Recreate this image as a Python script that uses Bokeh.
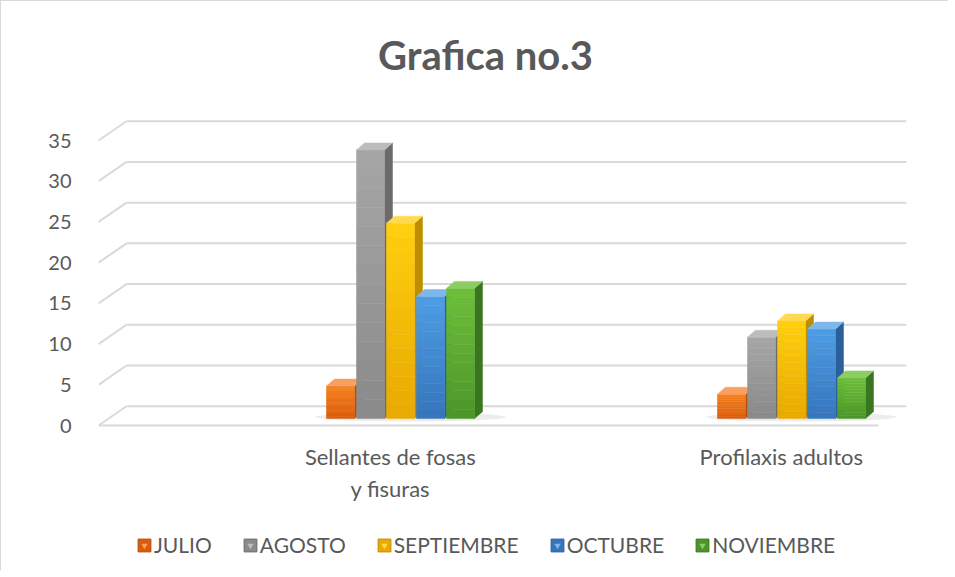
import numpy as np
from bokeh.plotting import figure
from bokeh.layouts import column
from bokeh.models import Range1d, FixedTicker, Legend, LegendItem
from bokeh.core.properties import value
from bokeh.embed import file_html
from bokeh.resources import INLINE

# ---------------- data ----------------
title_text = "Grafica no.3"
categories = ["Sellantes de fosas\ny fisuras", "Profilaxis adultos"]
series = ["JULIO", "AGOSTO", "SEPTIEMBRE", "OCTUBRE", "NOVIEMBRE"]
julio = [4, 3]
agosto = [33, 10]
septiembre = [24, 12]
octubre = [15, 11]
noviembre = [16, 5]
values = [julio, agosto, septiembre, octubre, noviembre]
y_ticks = [0, 5, 10, 15, 20, 25, 30, 35]

# ---------------- style ----------------
front_top = ["#F5821F", "#A6A6A6", "#FFCF10", "#4E9DE4", "#6DBF3B"]
front_bottom = ["#D95B0B", "#8A8A8A", "#E8A900", "#3575BC", "#4C9629"]
side_col = ["#B54E0A", "#6B6B6B", "#BF8E00", "#2A5F9C", "#3A7520"]
top_col = ["#F9A060", "#BDBDBD", "#FFDA50", "#7DB7EC", "#8DCD64"]
TEXT = "#595959"
GRID = "#D9D9D9"
FONT = "Lato"

PX_X = 391.0      # px per category unit
PX_Y = 8.22       # px per value unit
W, H0, H1, H2 = 947, 100, 403, 66
ML, MR, MT, MB = 97, 42, 10, 72
FRAME_W = W - ML - MR
FRAME_H = H1 - MT - MB

BAR_SHIFT = 0.026           # bar groups sit right of the label positions (perspective)
X0 = 1 + BAR_SHIFT - 302 / PX_X
X1 = X0 + FRAME_W / PX_X
Y0 = -4 / PX_Y
Y1 = Y0 + FRAME_H / PX_Y

DEPTH_X = 28 / PX_X         # wall depth offset
DEPTH_Y = 19.5 / PX_Y
BAR_BASE = 7 / PX_Y
BW = 28 / PX_X
PITCH = 30 / PX_X
BDX = 8 / PX_X
BDY = 7 / PX_Y
NBANDS = 14


def mix(c1, c2, t):
    a = [int(c1[i:i + 2], 16) for i in (1, 3, 5)]
    b = [int(c2[i:i + 2], 16) for i in (1, 3, 5)]
    return "#%02x%02x%02x" % tuple(int(round(a[k] + (b[k] - a[k]) * t)) for k in range(3))


def strip(height):
    f = figure(width=W, height=height, output_backend="svg", toolbar_location=None,
               x_range=Range1d(0, 1), y_range=Range1d(0, 1),
               min_border=0, min_border_left=0, min_border_right=0,
               min_border_top=0, min_border_bottom=0,
               background_fill_color="white", border_fill_color="white")
    f.axis.visible = False
    f.xgrid.visible = False
    f.ygrid.visible = False
    f.outline_line_color = None
    return f


# ---------------- title strip ----------------
tf = strip(H0)
tf.text(x=[0.479], y=[0.47], text=[title_text], text_font=value(FONT),
        text_font_style="bold", text_font_size="40px", text_color=TEXT,
        text_align="center", text_baseline="middle")

# ---------------- main chart ----------------
p = figure(width=W, height=H1, output_backend="svg", toolbar_location=None,
           x_range=Range1d(X0, X1), y_range=Range1d(Y0, Y1),
           min_border_left=ML, min_border_right=MR, min_border_top=MT, min_border_bottom=MB,
           background_fill_color="white", border_fill_color="white")
p.outline_line_color = None
p.xgrid.visible = False
p.ygrid.visible = False

p.yaxis.ticker = FixedTicker(ticks=y_ticks)
p.yaxis.axis_line_color = None
p.yaxis.major_tick_line_color = None
p.yaxis.minor_tick_line_color = None
p.yaxis.major_label_standoff = 21
p.yaxis.major_label_text_font = FONT
p.yaxis.major_label_text_font_size = "20px"
p.yaxis.major_label_text_color = TEXT

p.xaxis.ticker = FixedTicker(ticks=[1, 2])
p.xaxis.major_label_overrides = {1: categories[0], 2: categories[1]}
p.xaxis.axis_line_color = None
p.xaxis.major_tick_line_color = None
p.xaxis.minor_tick_line_color = None
p.xaxis.major_label_standoff = 7
p.xaxis.major_label_text_font = FONT
p.xaxis.major_label_text_font_size = "22px"
p.xaxis.major_label_text_color = TEXT

# walls: back gridlines, side-wall diagonals, floor front edge
xb = X0 + DEPTH_X
p.segment(x0=[xb] * len(y_ticks), y0=[v + DEPTH_Y for v in y_ticks],
          x1=[X1] * len(y_ticks), y1=[v + DEPTH_Y for v in y_ticks],
          line_color=GRID, line_width=2)
p.segment(x0=[X0] * len(y_ticks), y0=y_ticks,
          x1=[xb] * len(y_ticks), y1=[v + DEPTH_Y for v in y_ticks],
          line_color=GRID, line_width=2)
p.segment(x0=[X0], y0=[0], x1=[X1 - DEPTH_X], y1=[0], line_color=GRID, line_width=2)

# soft floor shadow under each group
for g in range(len(categories)):
    xc = g + 1 + BAR_SHIFT
    p.ellipse(x=[xc + 10 / PX_X], y=[BAR_BASE + 0.2], width=[5 * PITCH + 40 / PX_X],
              height=[1.1], fill_color="#9a9a9a", fill_alpha=0.18, line_color=None)

for i, name in enumerate(series):
    bx0, bx1, by0, by1, bcol = [], [], [], [], []
    side_xs, side_ys, top_xs, top_ys = [], [], [], []
    for g in range(len(categories)):
        val = values[i][g]
        xc = g + 1 + BAR_SHIFT + (i - 2) * PITCH
        xl, xr = xc - BW / 2, xc + BW / 2
        ytop = BAR_BASE + val
        for j in range(NBANDS):
            bx0.append(xl)
            bx1.append(xr)
            by0.append(BAR_BASE + val * j / NBANDS)
            by1.append(BAR_BASE + val * (j + 1) / NBANDS)
            bcol.append(mix(front_bottom[i], front_top[i], (j + 0.5) / NBANDS))
        side_xs.append([xr, xr, xr + BDX, xr + BDX])
        side_ys.append([BAR_BASE, ytop, ytop + BDY, BAR_BASE + BDY])
        top_xs.append([xl, xl + BDX, xr + BDX, xr])
        top_ys.append([ytop, ytop + BDY, ytop + BDY, ytop])
    p.patches(xs=side_xs, ys=side_ys, fill_color=side_col[i], line_color=side_col[i], line_width=0.5)
    p.quad(left=bx0, right=bx1, bottom=by0, top=by1, fill_color=bcol, line_color=bcol, line_width=0.5)
    p.patches(xs=top_xs, ys=top_ys, fill_color=top_col[i], line_color=top_col[i], line_width=0.5)

# ---------------- legend strip ----------------
lf = strip(H2)
legend_items = []
for i, name in enumerate(series):
    r1 = lf.quad(left=[np.nan], right=[np.nan], bottom=[np.nan], top=[np.nan],
                 fill_color=front_bottom[i], line_color=side_col[i], line_width=1)
    r2 = lf.scatter(x=[np.nan], y=[np.nan], marker="inverted_triangle", size=6,
                    fill_color=top_col[i], line_color=None)
    legend_items.append(LegendItem(label=name, renderers=[r1, r2]))

legend = Legend(items=legend_items, orientation="horizontal", location=(38, 13),
                label_text_font=FONT, label_text_font_size="21px", label_text_color=TEXT,
                glyph_width=16, glyph_height=16, label_standoff=2, spacing=30,
                padding=4, margin=0, border_line_color=None, background_fill_alpha=0)
lf.add_layout(legend)

layout = column(tf, p, lf, spacing=0,
                styles={"border-left": "1px solid #d9d9d9", "border-top": "1px solid #d9d9d9"})

open("out.html", "w").write(file_html(layout, INLINE))
